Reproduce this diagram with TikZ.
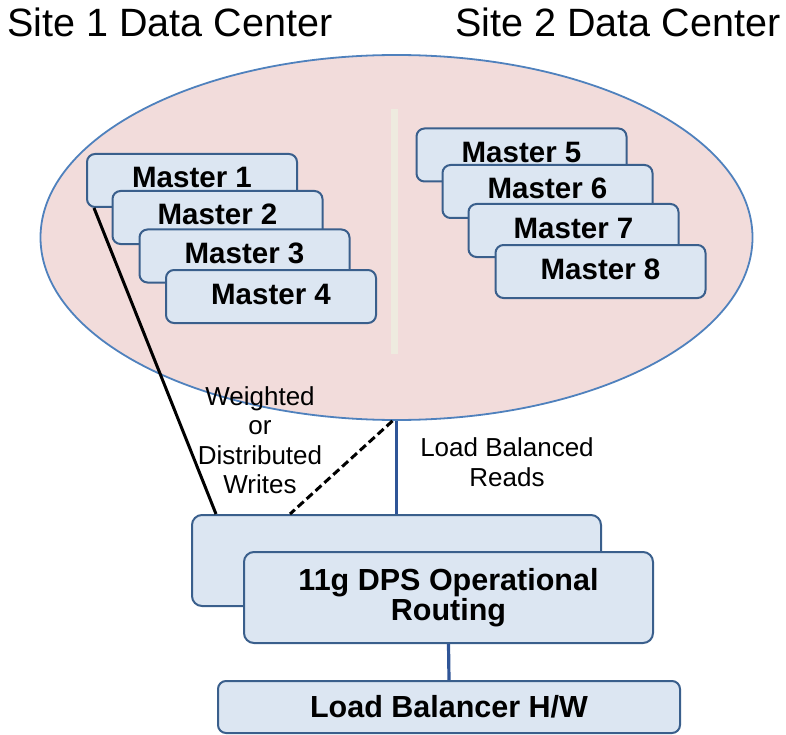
\documentclass[tikz,border=0pt]{standalone}
\usepackage{fontspec}
\setmainfont{Liberation Sans}
\usetikzlibrary{shapes.geometric}
\definecolor{ellfill}{HTML}{F2DCDB}
\definecolor{ellline}{HTML}{4F81BD}
\definecolor{boxfill}{HTML}{DCE6F2}
\definecolor{boxline}{HTML}{3A5F8C}
\definecolor{linkblue}{HTML}{2F5597}
\definecolor{divider}{HTML}{EEEBDF}
\tikzset{
  sitebox/.style={ellipse, draw=ellline, fill=ellfill, line width=1.8pt, inner sep=0pt,
    minimum width=712pt, minimum height=365pt},
  masterbox/.style={rectangle, rounded corners=8pt, draw=boxline, fill=boxfill, line width=2pt,
    minimum width=210pt, minimum height=53pt, inner sep=0pt,
    font=\fontsize{29.5}{30}\selectfont\bfseries, text height=21pt, text depth=6pt},
  bigbox/.style={rectangle, rounded corners=10pt, draw=boxline, fill=boxfill, line width=2pt,
    minimum width=409pt, minimum height=91pt, inner sep=0pt, align=center,
    font=\fontsize{30.5}{29.5}\selectfont\bfseries},
  lbbox/.style={rectangle, rounded corners=8pt, draw=boxline, fill=boxfill, line width=2pt,
    minimum width=462pt, minimum height=52pt, inner sep=0pt,
    font=\fontsize{30.5}{30}\selectfont\bfseries},
  titletext/.style={anchor=base, inner sep=0pt, font=\fontsize{39.5}{40}\selectfont},
  labeltext/.style={inner sep=0pt, align=center, font=\fontsize{26}{29.5}\selectfont},
  bluelink/.style={draw=linkblue, line width=3.2pt},
}
\begin{document}
\begin{tikzpicture}[x=1pt,y=-1pt]
\useasboundingbox (0,0) rectangle (786,735);
% titles
\node[titletext] (t1) at (170,37) {Site 1 Data Center};
\node[titletext] (t2) at (618,37) {Site 2 Data Center};
% site ellipse
\node[sitebox] (site) at (396.5,237.5) {};
% divider
\coordinate (dtop) at (394,109);
\coordinate (dbot) at (394,354);
\draw[divider, line width=7pt] (dtop) -- (dbot);
% masters
\node[masterbox] (m1) at (192,180.5) {Master 1};
\node[masterbox] (m2) at (217.5,217.5) {Master 2};
\node[masterbox] (m3) at (244.5,256) {Master 3};
\node[masterbox] (m4) at (271,296.5) {Master 4};
\node[masterbox] (m5) at (521.5,155) {Master 5};
\node[masterbox] (m6) at (547.5,191.5) {Master 6};
\node[masterbox] (m7) at (573.5,230.5) {Master 7};
\node[masterbox] (m8) at (600.5,271.5) {Master 8};
% bottom boxes
\node[bigbox] (back) at (396.5,560.5) {};
\node[bigbox] (front) at (448.5,597.5) {11g DPS Operational\\Routing};
\node[lbbox] (lb) at (449,707) {Load Balancer H/W};
% connectors
\draw[black, line width=3pt] ([xshift=8pt]m1.south west) -- ([xshift=25pt]back.north west);
\draw[black, line width=3pt, dash pattern=on 8pt off 4pt] ([xshift=-4pt]site.south) -- ([xshift=99pt]back.north west);
\draw[bluelink] (site.south) -- (back.north);
\draw[bluelink] (front.south) -- (lb.north);
% labels
\node[labeltext] (wlabel) at (260,440) {Weighted\\or\\Distributed\\Writes};
\node[labeltext] (rlabel) at (507,462) {Load Balanced\\Reads};
\end{tikzpicture}
\end{document}
